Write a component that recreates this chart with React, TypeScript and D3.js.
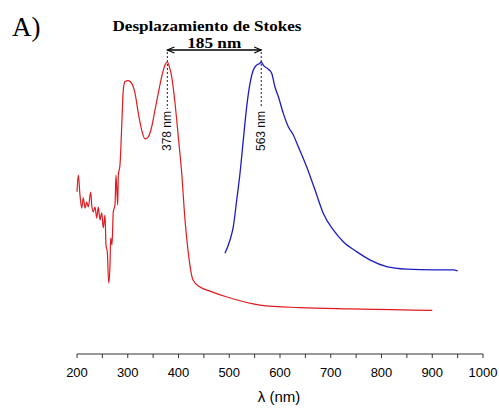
import React from "react";
import * as d3 from "d3";

const W = 499;
const H = 408;

// Absorption (red) — wavelength (nm) and normalized intensity
const absWavelength = [
  200, 202.6, 205.9, 209.3, 212.4, 215.8, 219.1, 222.3, 227, 229, 232, 235.5, 238.8, 242, 245.3,
  248.7, 251.8, 255.2, 257.1, 259.7, 262.5, 265, 266.4, 269, 271.5, 274.9, 276.8, 280.2, 281.4,
  284.7, 288.1, 291.2, 294.6, 301.1, 307.8, 314.3, 320.8, 327.5, 334, 340.5, 347.2, 353.7, 360.2,
  366.9, 373.4, 378, 381.9, 386.6, 393.1, 399.6, 406.3, 412.8, 418.7, 428.6, 442.4, 462, 495.6,
  560.6, 639, 738, 820, 900,
];
const absIntensity = [
  0.497, 0.562, 0.484, 0.434, 0.473, 0.434, 0.457, 0.438, 0.496, 0.446, 0.419, 0.438, 0.395, 0.438,
  0.388, 0.415, 0.357, 0.407, 0.291, 0.264, 0.143, 0.213, 0.318, 0.291, 0.419, 0.446, 0.562, 0.446,
  0.562, 0.601, 0.749, 0.891, 0.924, 0.928, 0.917, 0.879, 0.802, 0.736, 0.702, 0.71, 0.749, 0.814,
  0.879, 0.943, 0.988, 1.0, 0.982, 0.943, 0.841, 0.71, 0.57, 0.388, 0.271, 0.155, 0.128, 0.112,
  0.089, 0.058, 0.048, 0.043, 0.04, 0.037,
];

// Emission (blue)
const emWavelength = [
  491.6, 501.5, 508, 514.7, 521.2, 527.7, 534.4, 540.9, 547.4, 554, 560.6, 563, 567, 577, 583.6,
  590, 596.7, 606.5, 616.4, 626.2, 636, 652.5, 669, 685.4, 705, 724.7, 751, 777, 810, 849.6, 902,
  941.5, 950,
];
const emIntensity = [
  0.259, 0.31, 0.362, 0.465, 0.569, 0.698, 0.827, 0.917, 0.969, 0.988, 0.995, 1.0, 0.988, 0.972,
  0.956, 0.904, 0.866, 0.801, 0.749, 0.717, 0.672, 0.594, 0.504, 0.413, 0.349, 0.303, 0.265, 0.233,
  0.207, 0.197, 0.194, 0.194, 0.19,
];

const xTicks = [200, 250, 300, 350, 400, 450, 500, 550, 600, 650, 700, 750, 800, 850, 900, 950, 1000];
const absPeak = 378;
const emPeak = 563;
const panelLabel = "A)";
const title = "Desplazamiento de Stokes";
const shiftLabel = "185 nm";
const xLabel = "λ (nm)";

export default function App() {
  const x = d3.scaleLinear().domain([200, 1000]).range([77, 483]);
  const y = d3.scaleLinear().domain([0, 1]).range([320, 62]);

  const line = d3
    .line<[number, number]>()
    .x((d) => x(d[0]))
    .y((d) => y(d[1]))
    .curve(d3.curveMonotoneX);

  const absData = absWavelength.map((w, i) => [w, absIntensity[i]] as [number, number]);
  const emData = emWavelength.map((w, i) => [w, emIntensity[i]] as [number, number]);

  const axisY = 354;
  const arrowY = 50;
  const xa = x(absPeak);
  const xe = x(emPeak);
  const sans = "'Liberation Sans', Arial, sans-serif";
  const serif = "'Liberation Serif', 'Times New Roman', serif";

  return (
    <svg
      width={W}
      height={H}
      style={{ position: "absolute", left: 0, top: 0, background: "#fff" }}
    >
      <text x={12} y={36} fontFamily={serif} fontSize={27} fill="#000">
        {panelLabel}
      </text>
      <text
        x={207}
        y={30.5}
        textAnchor="middle"
        fontFamily={serif}
        fontWeight="bold"
        fontSize={15}
        textLength={189}
        lengthAdjust="spacingAndGlyphs"
      >
        {title}
      </text>
      <text
        x={(xa + xe) / 2}
        y={47.5}
        textAnchor="middle"
        fontFamily={serif}
        fontWeight="bold"
        fontSize={15}
        textLength={54}
        lengthAdjust="spacingAndGlyphs"
      >
        {shiftLabel}
      </text>
      {/* arrow */}
      <line x1={xa} x2={xe} y1={arrowY} y2={arrowY} stroke="#000" strokeWidth={1.3} />
      <path
        d={`M${xa + 7},${arrowY - 3}L${xa},${arrowY}L${xa + 7},${arrowY + 3}M${xe - 7},${arrowY - 3}L${xe},${arrowY}L${xe - 7},${arrowY + 3}`}
        fill="none"
        stroke="#000"
        strokeWidth={1.1}
      />
      {/* dashed markers */}
      <line x1={xa} x2={xa} y1={arrowY + 2} y2={109} stroke="#222" strokeDasharray="2,2" strokeWidth={1} />
      <line x1={xe} x2={xe} y1={arrowY + 2} y2={106} stroke="#222" strokeDasharray="2,2" strokeWidth={1} />
      <text
        transform={`translate(${xa + 4},151) rotate(-90)`}
        fontFamily={sans}
        fontSize={12}
        fill="#111"
      >
        {`${absPeak} nm`}
      </text>
      <text
        transform={`translate(${xe + 4},151) rotate(-90)`}
        fontFamily={sans}
        fontSize={12}
        fill="#111"
      >
        {`${emPeak} nm`}
      </text>

      {/* curves */}
      <path d={line(absData) || ""} fill="none" stroke="#e01a1e" strokeWidth={1.2} />
      <path d={line(emData) || ""} fill="none" stroke="#1c1cc4" strokeWidth={1.3} />

      {/* x axis */}
      <line x1={x(200)} x2={x(1000)} y1={axisY} y2={axisY} stroke="#333" strokeWidth={1} />
      {xTicks.map((t) => (
        <g key={t}>
          <line x1={x(t)} x2={x(t)} y1={axisY} y2={axisY + 4} stroke="#333" strokeWidth={1} />
          {t % 100 === 0 && (
            <text
              x={x(t)}
              y={376.5}
              textAnchor="middle"
              fontFamily={sans}
              fontSize={13}
              fill="#000"
            >
              {t}
            </text>
          )}
        </g>
      ))}
      <text x={279} y={402} textAnchor="middle" fontFamily={sans} fontSize={15} fill="#000">
        {xLabel}
      </text>
    </svg>
  );
}
